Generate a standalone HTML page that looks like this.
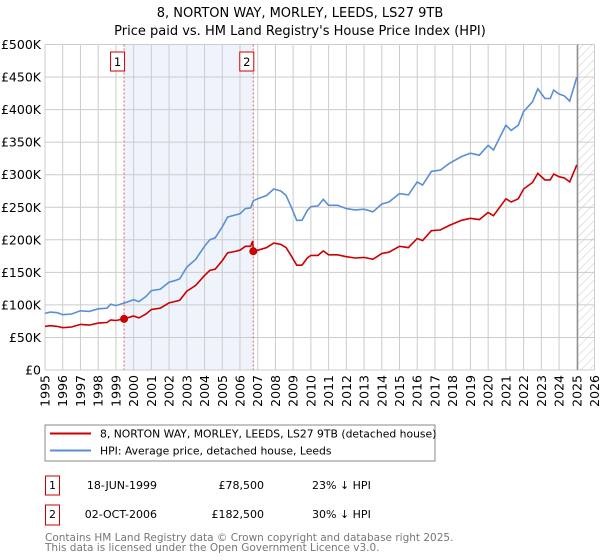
<!DOCTYPE html>
<html><head><meta charset="utf-8"><style>
body{margin:0;background:#fff;}
svg{display:block;font-family:"DejaVu Sans","Liberation Sans",sans-serif;}
</style></head><body>
<svg id="c" width="600" height="560" viewBox="0 0 600 560">
<text x="300" y="17" text-anchor="middle" font-size="13">8, NORTON WAY, MORLEY, LEEDS, LS27 9TB</text>
<text x="300" y="35" text-anchor="middle" font-size="13">Price paid vs. HM Land Registry's House Price Index (HPI)</text>
<g id="grid"></g><g id="marks"></g><g id="axes"></g>
<rect x="45" y="425" width="390" height="36" fill="#fff" stroke="#888"/>
<line x1="50" y1="433.5" x2="91" y2="433.5" stroke="#cc0000" stroke-width="2"/>
<text x="100" y="437.5" font-size="10.8">8, NORTON WAY, MORLEY, LEEDS, LS27 9TB (detached house)</text>
<line x1="50" y1="450.5" x2="91" y2="450.5" stroke="#5b8fd4" stroke-width="2"/>
<text x="100" y="454.5" font-size="10.8">HPI: Average price, detached house, Leeds</text>
<g font-size="11">
<rect x="45.5" y="476" width="14" height="19" fill="#fff" stroke="#cc0000"/>
<text x="52.5" y="489" text-anchor="middle">1</text>
<text x="157" y="489" text-anchor="end">18-JUN-1999</text>
<text x="264" y="489" text-anchor="end">£78,500</text>
<text x="312" y="489">23% ↓ HPI</text></g>
<g font-size="11">
<rect x="45.5" y="505" width="14" height="20" fill="#fff" stroke="#cc0000"/>
<text x="52.5" y="518" text-anchor="middle">2</text>
<text x="157" y="518" text-anchor="end">02-OCT-2006</text>
<text x="264" y="518" text-anchor="end">£182,500</text>
<text x="312" y="518">30% ↓ HPI</text></g>
<text x="45" y="541" font-size="10.5" fill="#777">Contains HM Land Registry data © Crown copyright and database right 2025.</text>
<text x="45" y="551" font-size="10.5" fill="#777">This data is licensed under the Open Government Licence v3.0.</text>
</svg>
<script>
const hpiYears=[1995.0,1995.3,1995.7,1996.0,1996.5,1997.0,1997.5,1998.0,1998.5,1998.7,1999.0,1999.5,2000.0,2000.3,2000.7,2001.0,2001.5,2002.0,2002.3,2002.6,2003.0,2003.5,2004.0,2004.3,2004.6,2005.0,2005.3,2005.7,2006.0,2006.3,2006.6,2006.75,2007.0,2007.5,2007.9,2008.3,2008.6,2008.9,2009.2,2009.5,2009.8,2010.0,2010.4,2010.7,2011.0,2011.5,2012.0,2012.5,2013.0,2013.5,2014.0,2014.4,2015.0,2015.5,2016.0,2016.3,2016.8,2017.3,2017.8,2018.5,2019.0,2019.5,2020.0,2020.3,2021.0,2021.3,2021.7,2022.0,2022.5,2022.8,2023.2,2023.5,2023.7,2024.0,2024.3,2024.6,2025.0];
const hpiValues=[87,89,88,85,86,91,90,94,95,101,99,103,108,105,113,122,124,135,137,140,158,170,190,200,203,220,235,238,240,248,249,260,263,268,278,275,268,250,230,230,245,251,252,262,253,253,248,246,247,243,255,258,271,269,289,284,305,307,317,328,333,330,345,338,376,368,376,397,412,432,417,417,430,424,421,413,450];
const propYears=[1995.0,1995.3,1995.7,1996.0,1996.5,1997.0,1997.5,1998.0,1998.5,1998.7,1999.0,1999.46,2000.0,2000.3,2000.7,2001.0,2001.5,2002.0,2002.3,2002.6,2003.0,2003.5,2004.0,2004.3,2004.6,2005.0,2005.3,2005.7,2006.0,2006.3,2006.6,2006.72,2006.75,2007.0,2007.5,2007.9,2008.3,2008.6,2008.9,2009.2,2009.5,2009.8,2010.0,2010.4,2010.7,2011.0,2011.5,2012.0,2012.5,2013.0,2013.5,2014.0,2014.4,2015.0,2015.5,2016.0,2016.3,2016.8,2017.3,2017.8,2018.5,2019.0,2019.5,2020.0,2020.3,2021.0,2021.3,2021.7,2022.0,2022.5,2022.8,2023.2,2023.5,2023.7,2024.0,2024.3,2024.6,2025.0];
const propValues=[67,68,67,65,66,70,69,72,73,77,76,78.5,83,80,86,93,95,103,105,107,121,130,145,153,155,168,180,182,184,190,190,198,182.5,184,188,195,193,188,175,161,161,172,176,176,183,177,177,174,172,173,170,179,181,190,188,202,199,214,215,222,230,233,231,242,237,263,258,263,278,288,302,292,292,301,297,295,289,315];
const saleYears=[1999.46,2006.75];
const saleValues=[78.5,182.5];
const saleLabels=["1","2"];
const yTicks=[0,50,100,150,200,250,300,350,400,450,500];
const yTickLabels=["£0","£50K","£100K","£150K","£200K","£250K","£300K","£350K","£400K","£450K","£500K"];
const xTicks=[1995,1996,1997,1998,1999,2000,2001,2002,2003,2004,2005,2006,2007,2008,2009,2010,2011,2012,2013,2014,2015,2016,2017,2018,2019,2020,2021,2022,2023,2024,2025,2026];

const L=45,R=594.5,T=44.5,B=370;
const x=v=>L+(v-1995)/(2026-1995)*(R-L);
const y=v=>B-v/500*(B-T);
const NS="http://www.w3.org/2000/svg";
function mk(tag,parent,attrs){const e=document.createElementNS(NS,tag);for(const k in attrs)e.setAttribute(k,attrs[k]);document.getElementById(parent).appendChild(e);return e;}

let e=mk('rect','grid',{x:x(saleYears[0]),y:T,width:x(saleYears[1])-x(saleYears[0]),height:B-T,fill:'#eef3fc'});


const defs=mk('defs','grid',{});
defs.innerHTML='<pattern id="h" width="6" height="6" patternUnits="userSpaceOnUse" patternTransform="rotate(45)"><line x1="0" y1="0" x2="0" y2="6" stroke="#bbb" stroke-width="0.8"/></pattern>';
e=mk('rect','grid',{x:x(2025.1),y:T,width:R-x(2025.1),height:B-T,fill:'url(#h)'});


yTicks.forEach((t,i)=>{
 let g=mk('line','grid',{x1:L,x2:R,y1:y(t),y2:y(t),stroke:'#ccc','stroke-width':1});
 
 
 let tx=mk('text','axes',{x:L-4,y:y(t)+4.5,'text-anchor':'end','font-size':12.5});
 tx.textContent=yTickLabels[i];
 
 
});
xTicks.forEach(t=>{
 let g=mk('line','grid',{x1:x(t),x2:x(t),y1:T,y2:B,stroke:'#ccc','stroke-width':1});
 
 
 let tx=mk('text','axes',{x:0,y:0,'text-anchor':'end','font-size':12.5,transform:`translate(${x(t)+4.5},${B+5}) rotate(-90)`});
 tx.textContent=t;
 
 
});
e=mk('line','grid',{x1:x(2025.05),x2:x(2025.05),y1:T,y2:B,stroke:'#888','stroke-width':1.2});


saleYears.forEach((s,i)=>{
 let l=mk('line','marks',{x1:x(s),x2:x(s),y1:T,y2:B,stroke:'#e06060','stroke-dasharray':'2,2','stroke-width':1});
 
 
});
const path=(xs,vs)=>xs.map((t,i)=>(i?'L':'M')+x(t).toFixed(1)+','+y(vs[i]).toFixed(1)).join('');
e=mk('path','marks',{d:path(hpiYears,hpiValues),fill:'none',stroke:'#5b8fd4','stroke-width':1.6});


e=mk('path','marks',{d:path(propYears,propValues),fill:'none',stroke:'#cc0000','stroke-width':1.6});


saleYears.forEach((s,i)=>{
 let c=mk('circle','marks',{cx:x(s),cy:y(saleValues[i]),r:4,fill:'#cc0000'});
 
 
 let b=mk('rect','marks',{x:x(s)-13.5,y:52,width:14,height:19,fill:'#fff',stroke:'#cc0000'});
 
 
 let t=mk('text','marks',{x:x(s)-6.5,y:66,'text-anchor':'middle','font-size':11.5});
 t.textContent=saleLabels[i];
 
 
});
</script>
</body></html>
